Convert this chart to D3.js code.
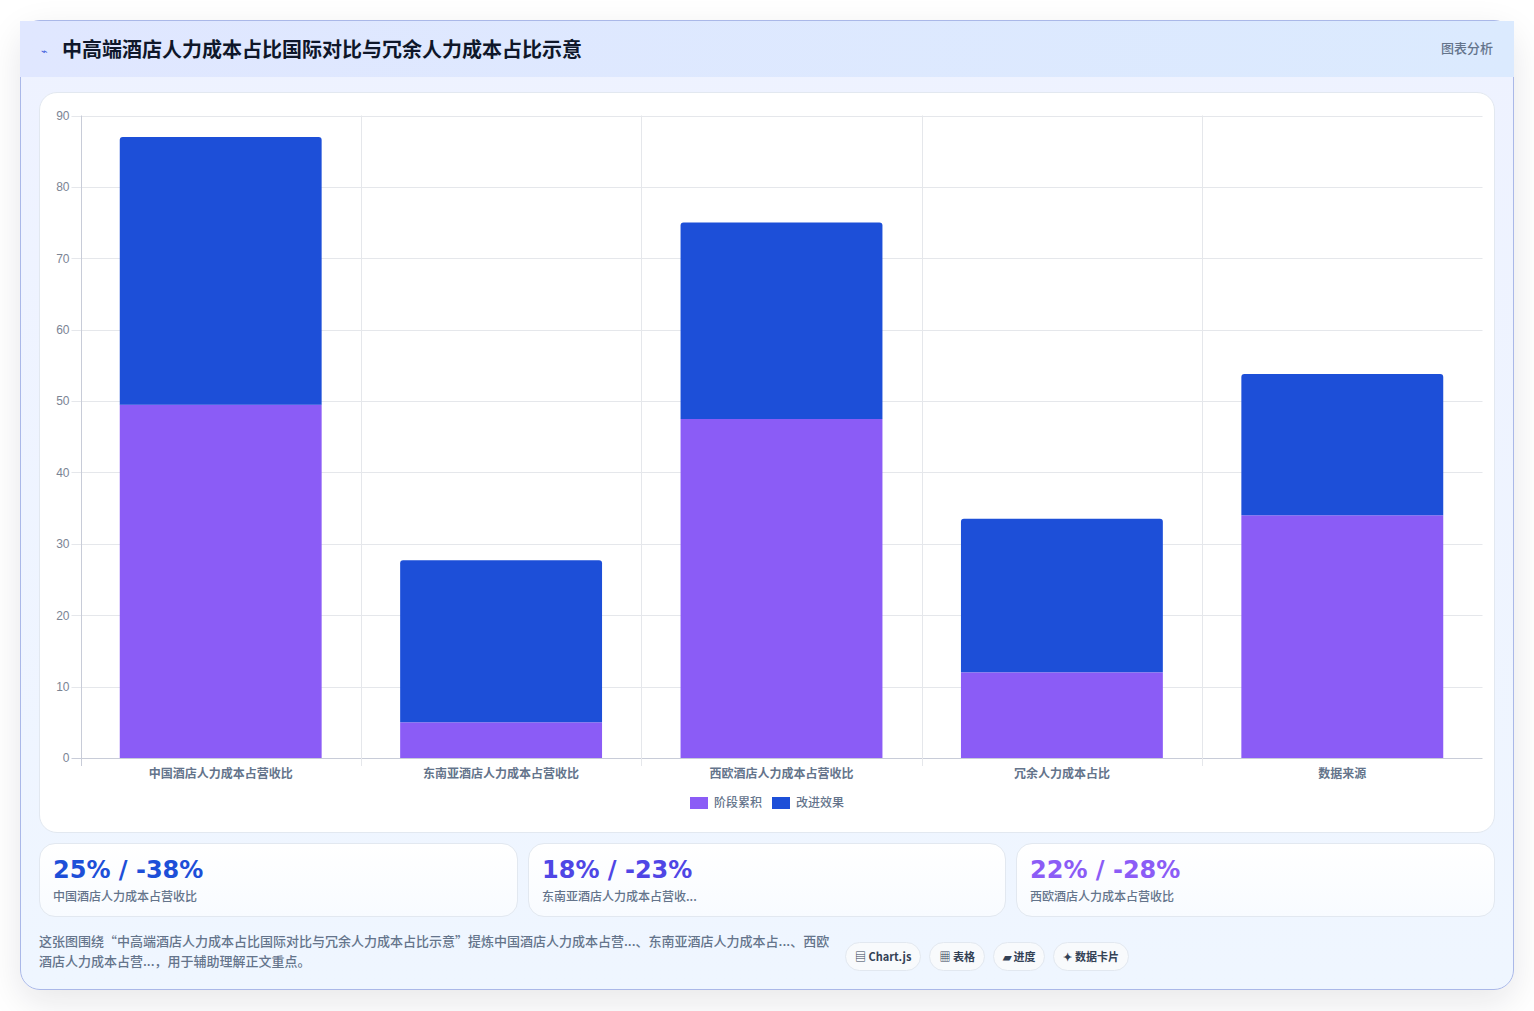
<!DOCTYPE html>
<html lang="zh">
<head>
<meta charset="utf-8">
<title>中高端酒店人力成本占比国际对比与冗余人力成本占比示意</title>
<script src="https://cdn.jsdelivr.net/npm/d3@7/dist/d3.min.js"></script>
<style>
  * { box-sizing: border-box; margin: 0; padding: 0; }
  html, body { width: 1534px; height: 1011px; overflow: hidden; background: #fff; }
  body { font-family: "Noto Sans CJK SC", "Noto Sans", sans-serif; position: relative; }
  .card { position: absolute; left: 20px; top: 20px; width: 1494px; height: 970px; border: 1px solid #aab8e8; border-radius: 20px;
          background: linear-gradient(180deg, #eef2ff 0%, #eff6ff 100%); box-shadow: 0 12px 36px rgba(15, 23, 42, .10); }
  .head { position: absolute; left: -1px; top: 0; width: 1494px; height: 56px; background: linear-gradient(90deg, #e0e7ff, #dbeafe); }
  .head .icon { position: absolute; left: 21px; top: 21px; font-size: 11px; line-height: 16px; color: #3b5bdb; }
  .head h1 { position: absolute; left: 42px; top: 12px; font-size: 20px; line-height: 32px; font-weight: 700; color: #0f172a; letter-spacing: 0; white-space: nowrap; }
  .head .tag { position: absolute; right: 21px; top: 17px; font-size: 13px; line-height: 20px; color: #64748b; font-weight: 500; }
  .panel { position: absolute; left: 18px; top: 71px; width: 1456px; height: 741px; background: #fff; border: 1px solid #e2e8f0; border-radius: 18px; }
  #chart { position: absolute; left: 0; top: 0; }
  .stat { position: absolute; top: 822px; height: 74px; background: linear-gradient(180deg, #fff, #f8fbff); border: 1px solid #e2e8f0; border-radius: 16px; }
  .stat b { position: absolute; left: 13px; top: 10px; font: 700 24px/32px "DejaVu Sans", sans-serif; white-space: nowrap; }
  .stat span { position: absolute; left: 13px; top: 43px; font-size: 12px; line-height: 18px; color: #64748b; font-weight: 500; white-space: nowrap; }
  .note { position: absolute; left: 18px; top: 910px; width: 800px; font-size: 13px; line-height: 20px; color: #64748b; font-weight: 500; }
  .chips { position: absolute; left: 824px; top: 921px; display: flex; gap: 8px; }
  .chip { height: 29px; padding: 0 9px; border: 1px solid #e2e8f0; border-radius: 15px; background: #f8fafc; font-size: 11px; line-height: 27px; font-weight: 700; color: #334155; white-space: nowrap; }
</style>
</head>
<body>
<div class="card">
  <div class="head">
    <span class="icon">⌁</span>
    <h1 id="title"></h1>
    <span class="tag">图表分析</span>
  </div>
  <div class="panel"></div>
  <div id="stats"></div>
  <p class="note" id="note"></p>
  <div class="chips" id="chips"></div>
</div>
<svg id="chart" width="1534" height="1011"></svg>
<script>
const titleText = "中高端酒店人力成本占比国际对比与冗余人力成本占比示意";
const categories = ["中国酒店人力成本占营收比", "东南亚酒店人力成本占营收比", "西欧酒店人力成本占营收比", "冗余人力成本占比", "数据来源"];
const stageValues = [49.5, 5, 47.5, 12, 34];
const effectValues = [37.5, 22.7, 27.5, 21.5, 19.8];
const seriesNames = ["阶段累积", "改进效果"];
const seriesColors = ["#8b5cf6", "#1d4fd8"];
const yTicks = [0, 10, 20, 30, 40, 50, 60, 70, 80, 90];
const statValues = ["25% / -38%", "18% / -23%", "22% / -28%"];
const statLabels = ["中国酒店人力成本占营收比", "东南亚酒店人力成本占营收...", "西欧酒店人力成本占营收比"];
const statColors = ["#1d4fd8", "#4f46e5", "#8b5cf6"];
const noteText = "这张图围绕“中高端酒店人力成本占比国际对比与冗余人力成本占比示意”提炼中国酒店人力成本占营...、东南亚酒店人力成本占...、西欧酒店人力成本占营...，用于辅助理解正文重点。";
const chipLabels = ["▤ Chart.js", "▦ 表格", "▰ 进度", "✦ 数据卡片"];

d3.select("#title").text(titleText);
d3.select("#note").text(noteText);
d3.select("#chips").selectAll("div").data(chipLabels).join("div").attr("class", "chip").text(d => d);

// Three summary cards under the chart panel
const statLefts = [18, 507, 995];
const statWidths = [479, 478, 479];
const stats = d3.select("#stats").selectAll("div").data(statValues).join("div")
  .attr("class", "stat")
  .style("left", (d, i) => statLefts[i] + "px")
  .style("width", (d, i) => statWidths[i] + "px");
stats.append("b").text(d => d).style("color", (d, i) => statColors[i]);
stats.append("span").text((d, i) => statLabels[i]);

// Stacked bars
const svg = d3.select("#chart");
const plot = { left: 80.5, right: 1482.5, top: 115.5, bottom: 758 };
const x = d3.scaleBand().domain(categories).range([plot.left, plot.right]).paddingInner(0).paddingOuter(0);
const y = d3.scaleLinear().domain([0, 90]).range([plot.bottom, plot.top]);
const barWidth = x.bandwidth() * 0.72;

const rows = categories.map((c, i) => ({ category: c, stage: stageValues[i], effect: effectValues[i] }));
const stacked = d3.stack().keys(["stage", "effect"])(rows);

// Grid lines follow the same ticks as the axes
const grid = svg.append("g");
grid.selectAll("line.h").data(yTicks).join("line").attr("class", "h")
  .attr("x1", plot.left - 9).attr("x2", plot.right)
  .attr("y1", d => Math.round(y(d)) + .5).attr("y2", d => Math.round(y(d)) + .5)
  .attr("stroke", d => d === 0 ? "#c8ccd8" : "#e5e7eb");
const bandEdges = categories.map(c => x(c)).concat(plot.right);
grid.selectAll("line.v").data(bandEdges).join("line").attr("class", "v")
  .attr("x1", d => Math.round(d) + .5).attr("x2", d => Math.round(d) + .5)
  .attr("y1", plot.top).attr("y2", plot.bottom + 8)
  .attr("stroke", (d, i) => i === 0 ? "#c8ccd8" : "#e5e7eb")
  .attr("display", (d, i) => i === categories.length ? "none" : null);

const barX = c => x(c) + (x.bandwidth() - barWidth) / 2;
svg.append("g").selectAll("path").data(stacked[0].map(d => d)).join("rect")
  .attr("x", d => barX(d.data.category)).attr("width", barWidth)
  .attr("y", d => y(d[1])).attr("height", d => y(d[0]) - y(d[1]))
  .attr("fill", seriesColors[0]);
// The upper series keeps slightly rounded top corners
svg.append("g").selectAll("path").data(stacked[1].map(d => d)).join("path")
  .attr("fill", seriesColors[1])
  .attr("d", d => {
    const p = d3.path(), l = barX(d.data.category), r = l + barWidth, t = y(d[1]), b = y(d[0]), rad = 3;
    p.moveTo(l, b); p.lineTo(l, t + rad); p.quadraticCurveTo(l, t, l + rad, t);
    p.lineTo(r - rad, t); p.quadraticCurveTo(r, t, r, t + rad); p.lineTo(r, b); p.closePath();
    return p.toString();
  });

const yAxis = d3.axisLeft(y).tickValues(yTicks).tickSize(0).tickPadding(11);
const gy = svg.append("g").attr("transform", `translate(${plot.left},0)`).call(yAxis);
gy.select(".domain").remove();
gy.selectAll("text").attr("fill", "#7b8494").style("font", "12px 'Liberation Sans', sans-serif");

const xAxis = d3.axisBottom(x).tickSize(0).tickPadding(11);
const gx = svg.append("g").attr("transform", `translate(0,${plot.bottom})`).call(xAxis);
gx.select(".domain").remove();
gx.selectAll("text").attr("fill", "#64748b").style("font", "600 12px 'Noto Sans CJK SC', sans-serif");

// Legend
const legendX = [690, 772];
const legend = svg.append("g").selectAll("g").data(seriesNames).join("g")
  .attr("transform", (d, i) => `translate(${legendX[i]},797)`);
legend.append("rect").attr("width", 18).attr("height", 12).attr("fill", (d, i) => seriesColors[i]);
legend.append("text").attr("x", 24).attr("y", 10).attr("fill", "#64748b")
  .style("font", "500 12px 'Noto Sans CJK SC', sans-serif").text(d => d);
</script>
</body>
</html>
